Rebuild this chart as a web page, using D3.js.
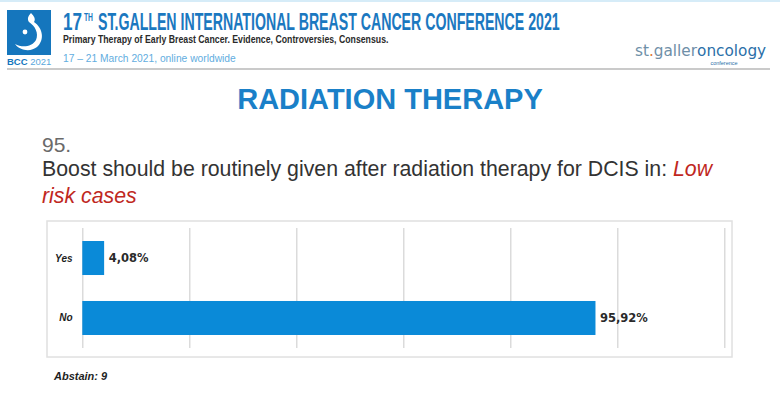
<!DOCTYPE html>
<html>
<head>
<meta charset="utf-8">
<script src="https://cdn.jsdelivr.net/npm/d3@7"></script>
<style>
  html, body { margin: 0; padding: 0; background: #ffffff; }
  svg { display: block; }
</style>
</head>
<body>
<script>
// ---- data ----
const categories = ["Yes", "No"];
const values = [4.08, 95.92];
const valueLabels = ["4,08%", "95,92%"];
const xTicks = [0, 20, 40, 60, 80, 100, 120];
const abstainText = "Abstain: 9";
const questionNumber = "95.";
const questionText = "Boost should be routinely given after radiation therapy for DCIS in: ";
const questionHighlight1 = "Low";
const questionHighlight2 = "risk cases";
const sectionTitle = "RADIATION THERAPY";

const W = 780, H = 396;
const svg = d3.select("body").append("svg").attr("width", W).attr("height", H);

svg.append("rect").attr("width", W).attr("height", H).attr("fill", "#ffffff");
// faint top strip
svg.append("rect").attr("x", 0).attr("y", 0).attr("width", W).attr("height", 2).attr("fill", "#d6ecf8");

// helper: horizontally condensed text fitted to a given width
function fitText(parent, x, y, width, attrs, content) {
  const g = parent.append("g");
  const t = g.append("text").attr("x", 0).attr("y", 0);
  Object.entries(attrs).forEach(([k, v]) => t.attr(k, v));
  if (typeof content === "function") content(t); else t.text(content);
  const w = t.node().getComputedTextLength();
  g.attr("transform", `translate(${x},${y}) scale(${width / w},1)`);
  return t;
}

// ---- header ----
const logo = svg.append("g");
logo.append("rect").attr("x", 7).attr("y", 10).attr("width", 44).attr("height", 45).attr("fill", "#1576bd");
logo.append("path")
  .attr("d", "M31,13 C34,16 36,19 34,22 C43,28 45,40 37,47 C31,52 20,51 15,44 C22,48 32,47 36,40 C39,33 35,26 29,22 C27,19 28,16 31,13 Z")
  .attr("fill", "#ffffff");
logo.append("circle").attr("cx", 25).attr("cy", 32).attr("r", 2.4).attr("fill", "#ffffff");
logo.append("text").attr("x", 7).attr("y", 65).attr("font-family", "Liberation Sans, Arial, sans-serif")
  .attr("font-size", 9.5).attr("font-weight", "bold").attr("fill", "#1576bd").text("BCC")
  .append("tspan").attr("font-weight", "normal").attr("fill", "#5aa7dc").text(" 2021");

const hf = "Liberation Sans Narrow, Liberation Sans, sans-serif";
const headBold = { "font-family": hf, "font-weight": "bold", "font-size": 24, fill: "#1b78c0" };
fitText(svg, 63, 29.5, 19, headBold, "17");
fitText(svg, 84, 21, 9, { "font-family": hf, "font-weight": "bold", "font-size": 11, fill: "#1b78c0" }, "TH");
fitText(svg, 98, 29.5, 462, headBold, "ST.GALLEN INTERNATIONAL BREAST CANCER CONFERENCE 2021");

fitText(svg, 63, 42.5, 326, { "font-family": hf, "font-weight": "bold", "font-size": 10, fill: "#2a2a2a" },
  "Primary Therapy of Early Breast Cancer. Evidence, Controversies, Consensus.");

fitText(svg, 63, 62, 173, { "font-family": hf, "font-size": 11, fill: "#62ade0" },
  "17 \u2013 21 March 2021, online worldwide");

// st.galleroncology logo
fitText(svg, 635, 56, 131, { "font-family": "DejaVu Sans, sans-serif", "font-size": 15 }, t => {
  t.append("tspan").attr("fill", "#6f8fa8").text("st");
  t.append("tspan").attr("fill", "#e07a3a").text(".");
  t.append("tspan").attr("fill", "#6f8fa8").text("galler");
  t.append("tspan").attr("fill", "#2b6fa8").text("oncology");
});
svg.append("text").attr("x", 724).attr("y", 65).attr("font-family", "Liberation Sans, sans-serif")
  .attr("font-size", 5.5).attr("fill", "#2b6fa8").attr("text-anchor", "middle").text("conference");

svg.append("line").attr("x1", 7).attr("x2", 770).attr("y1", 69).attr("y2", 69)
  .attr("stroke", "#b8b8b8").attr("stroke-width", 1.5);

// ---- title & question ----
svg.append("text").attr("x", 390).attr("y", 108.5).attr("text-anchor", "middle")
  .attr("font-family", "Liberation Sans, Arial, sans-serif").attr("font-weight", "bold")
  .attr("font-size", 29).attr("fill", "#1a80c8").text(sectionTitle);

svg.append("text").attr("x", 42).attr("y", 151.5)
  .attr("font-family", "Liberation Sans, Arial, sans-serif").attr("font-size", 21)
  .attr("fill", "#6a6a6a").text(questionNumber);

const q = svg.append("text").attr("x", 42).attr("y", 176)
  .attr("font-family", "Liberation Sans, Arial, sans-serif").attr("font-size", 21.3)
  .attr("fill", "#333333");
q.append("tspan").text(questionText);
q.append("tspan").attr("fill", "#c0281e").attr("font-style", "italic").text(questionHighlight1);

svg.append("text").attr("x", 42).attr("y", 202.5)
  .attr("font-family", "Liberation Sans, Arial, sans-serif").attr("font-size", 21.3)
  .attr("font-style", "italic").attr("fill", "#c0281e").text(questionHighlight2);

// ---- chart ----
svg.append("rect").attr("x", 47).attr("y", 221).attr("width", 685).attr("height", 136)
  .attr("fill", "#ffffff").attr("stroke", "#e0e0e0").attr("stroke-width", 1.5);

const x = d3.scaleLinear().domain([0, 120]).range([82.3, 724.3]);
const y = d3.scaleBand().domain(categories).range([228, 348]).paddingInner(0.433).paddingOuter(0.217);

const grid = svg.append("g").attr("transform", "translate(0,348)")
  .call(d3.axisBottom(x).tickValues(xTicks).tickSize(-120).tickFormat(""));
grid.select(".domain").remove();
grid.selectAll(".tick line").attr("stroke", "#d2d2d2").attr("stroke-width", 1.2);

svg.append("g").selectAll("rect").data(categories).join("rect")
  .attr("x", x(0)).attr("y", d => y(d))
  .attr("width", (d, i) => x(values[i]) - x(0)).attr("height", y.bandwidth())
  .attr("fill", "#0a8ad8");

svg.append("g").selectAll("text").data(categories).join("text")
  .attr("x", 72.5).attr("y", d => y(d) + y.bandwidth() / 2).attr("dy", "0.35em")
  .attr("text-anchor", "end").attr("font-family", "Liberation Sans, Arial, sans-serif")
  .attr("font-weight", "bold").attr("font-style", "italic").attr("font-size", 10)
  .attr("fill", "#1e1e1e").text(d => d);

svg.append("g").selectAll("text").data(categories).join("text")
  .attr("x", (d, i) => x(values[i]) + 4.5).attr("y", d => y(d) + y.bandwidth() / 2).attr("dy", "0.35em")
  .attr("font-family", "DejaVu Sans, sans-serif")
  .attr("font-weight", "bold").attr("font-size", 11.5)
  .attr("fill", "#2a2a2a").text((d, i) => valueLabels[i]);

svg.append("text").attr("x", 54).attr("y", 380)
  .attr("font-family", "Liberation Sans, Arial, sans-serif").attr("font-weight", "bold")
  .attr("font-style", "italic").attr("font-size", 11).attr("fill", "#1e1e1e").text(abstainText);
</script>
</body>
</html>
